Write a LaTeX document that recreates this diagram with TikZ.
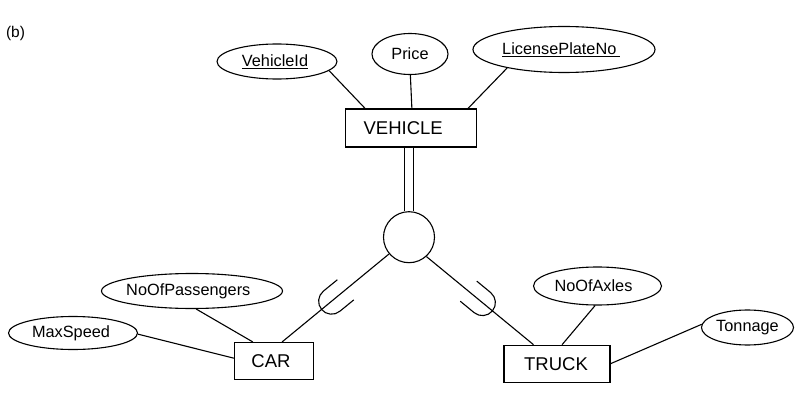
\documentclass[tikz,border=0pt]{standalone}
\usepackage{fontspec}
\setmainfont{Liberation Sans}
\usetikzlibrary{shapes.geometric,calc}
\newcommand{\shtext}[2]{\makebox[0pt]{\kern#1#2}}
\tikzset{
  line/.style={line width=1.1pt, black},
  attr/.style={draw, ellipse, line width=1.1pt, inner sep=0pt, font=\fontsize{16.3}{19}\selectfont},
  entity/.style={draw, rectangle, line width=1.1pt, inner sep=0pt, font=\fontsize{18.5}{22}\selectfont},
  subsetmark/.style={line width=1.1pt}
}
\begin{document}
\begin{tikzpicture}[x=1pt,y=1pt]
\useasboundingbox (0,0) rectangle (804,408);
\node[font=\fontsize{15.5}{17}\selectfont] (lbl) at (15.5,374.5) {(b)};
% entities
\node[entity, minimum width=131pt, minimum height=38pt] (veh) at (411.2,280) {\shtext{-16pt}{VEHICLE}};
\node[entity, minimum width=79pt, minimum height=37pt] (car) at (274,47) {\shtext{-6pt}{CAR}};
\node[entity, minimum width=106pt, minimum height=37pt] (truck) at (557,44.3) {\shtext{-2pt}{TRUCK}};
% attributes
\node[attr, minimum width=120pt, minimum height=35pt] (vid) at (277,346.5) {\shtext{-4pt}{\underline{VehicleId}}};
\node[attr, minimum width=76pt, minimum height=41pt] (price) at (410,354) {\shtext{0pt}{Price}};
\node[attr, minimum width=182pt, minimum height=46pt] (lic) at (564,358.5) {\shtext{-5.4pt}{\underline{LicensePlateNo\hspace{4pt}}}};
\node[attr, minimum width=181pt, minimum height=35pt] (nop) at (192,117) {\shtext{-7.4pt}{NoOfPassengers}};
\node[attr, minimum width=129pt, minimum height=33pt] (ms) at (73,75) {\shtext{-4pt}{MaxSpeed}};
\node[attr, minimum width=128pt, minimum height=38pt] (noa) at (597.5,122) {\shtext{-8pt}{NoOfAxles}};
\node[attr, minimum width=92pt, minimum height=35pt] (ton) at (747.5,80.5) {\shtext{0pt}{Tonnage}};
% specialization circle
\node[draw, circle, line width=1.1pt, minimum size=51pt, inner sep=0pt] (circ) at (409,170.8) {};
% attribute connectors
\draw[line] (vid.-10) -- (veh.157.3);
\draw[line] (price.-89) -- (veh.88.5);
\draw[line] (lic.-162) -- (veh.19.3);
\draw[line] (nop.-77.5) -- (car.138.5);
\draw[line] (ms.-1.75) -- (car.176);
\draw[line] (noa.-97.5) -- (truck.75.9);
\draw[line] (ton.176.8) -- (truck.0.4);
% double line
\draw[line, double, double distance=7.3pt] (veh.south -| circ.north) -- (circ.north);
% subclass lines
\draw[line] (circ.220.7) -- (car.67.2);
\draw[line] (circ.-48.4) -- (truck.141.7);
\coordinate (sl) at ($(circ.220.7)!0.537!(car.67.2)$);
\coordinate (sr) at ($(circ.-48.4)!0.523!(truck.141.7)$);
\draw[subsetmark, shift={(sl)}, rotate=39.2] (18,13) -- (0,13) arc[start angle=90, end angle=270, radius=13] -- (18,-13);
\draw[subsetmark, shift={(sr)}, rotate=140.5] (18,13) -- (0,13) arc[start angle=90, end angle=270, radius=13] -- (18,-13);
\end{tikzpicture}
\end{document}
